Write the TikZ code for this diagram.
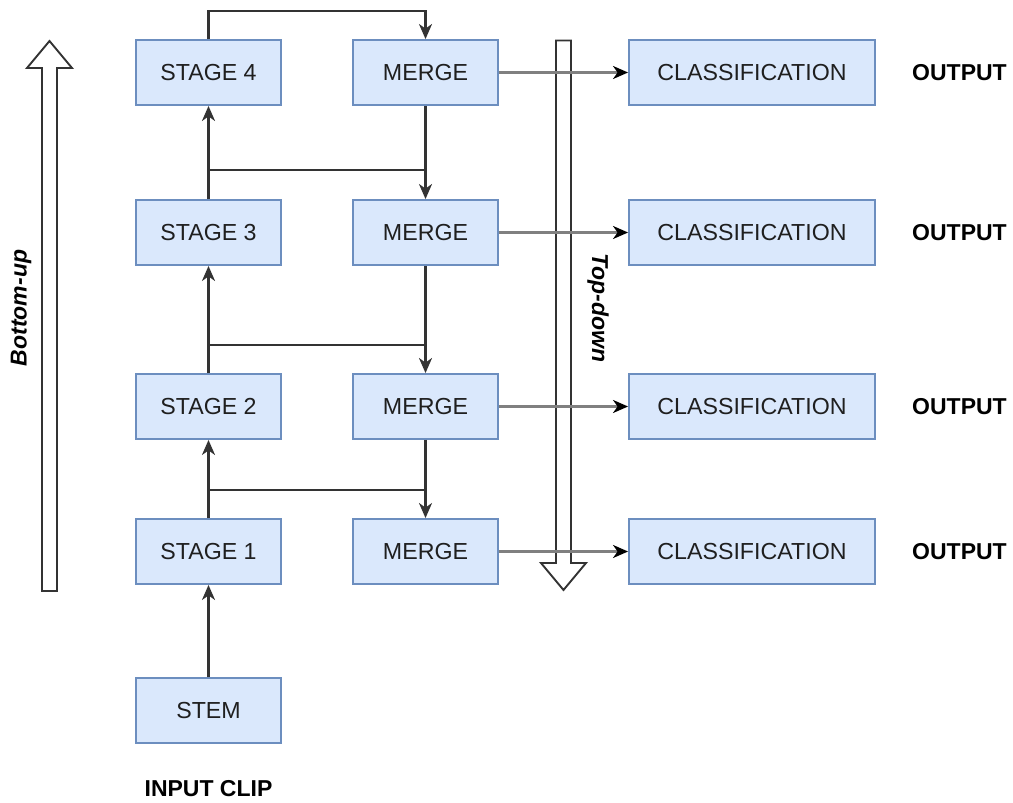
\documentclass[tikz,border=0pt]{standalone}
\usepackage{fontspec}
\setmainfont{Liberation Sans}
\usetikzlibrary{arrows.meta}
\definecolor{boxfill}{HTML}{DAE8FC}
\definecolor{boxline}{HTML}{6C8EBF}
\definecolor{wire}{HTML}{333333}
\definecolor{feed}{HTML}{808080}
\tikzset{
  block/.style={draw=boxline, fill=boxfill, line width=1.9pt, minimum height=65pt,
    inner sep=0pt, font=\fontsize{23.2}{27}\selectfont, text=black!88},
  stagebox/.style={block, minimum width=145pt},
  classbox/.style={block, minimum width=246pt},
  tag/.style={font=\fontsize{23}{27}\selectfont\bfseries, text=black},
  wireline/.style={draw=wire, line width=2.1pt},
  tipshape/.style={-{Stealth[length=15pt,width=13pt,inset=4.5pt]}},
  conn/.style={wireline, tipshape},
  feedconn/.style={draw=feed, line width=2.2pt, arrows={-{Stealth[length=15pt,width=13pt,inset=4.5pt,color=black]}}},
  blockarrow/.style={draw=wire, fill=white, line width=1.9pt, line join=miter},
  sidelabel/.style={font=\fontsize{23}{27}\selectfont\bfseries\itshape, text=black}
}
\begin{document}
\begin{tikzpicture}[x=1pt, y=-1pt]
\useasboundingbox (0,0) rectangle (1013,803);

% wide direction arrows
\draw[blockarrow] (42,591) -- (42,68) -- (27,68) -- (49.5,41) -- (72,68) -- (57,68) -- (57,591) -- cycle;
\draw[blockarrow] (556,40.5) -- (571,40.5) -- (571,563) -- (586,563) -- (563.5,590) -- (541,563) -- (556,563) -- cycle;
\node[sidelabel, rotate=90] (bu) at (21,308) {Bottom-up};
\node[sidelabel, rotate=-90] (td) at (598,308) {Top-down};

% backbone stages
\node[stagebox] (s4) at (208.5,72.5) {STAGE 4};
\node[stagebox] (s3) at (208.5,232.5) {STAGE 3};
\node[stagebox] (s2) at (208.5,406.5) {STAGE 2};
\node[stagebox] (s1) at (208.5,551.5) {STAGE 1};
\node[stagebox] (stem) at (208.5,710.5) {STEM};
\node[tag] (input) at (208.5,789) {INPUT CLIP};

% merge column
\node[stagebox] (m4) at (425.5,72.5) {MERGE};
\node[stagebox] (m3) at (425.5,232.5) {MERGE};
\node[stagebox] (m2) at (425.5,406.5) {MERGE};
\node[stagebox] (m1) at (425.5,551.5) {MERGE};

% heads
\node[classbox] (c4) at (752,72.5) {CLASSIFICATION};
\node[classbox] (c3) at (752,232.5) {CLASSIFICATION};
\node[classbox] (c2) at (752,406.5) {CLASSIFICATION};
\node[classbox] (c1) at (752,551.5) {CLASSIFICATION};
\node[tag] (o4) at (959.5,72.5) {OUTPUT};
\node[tag] (o3) at (959.5,232.5) {OUTPUT};
\node[tag] (o2) at (959.5,406.5) {OUTPUT};
\node[tag] (o1) at (959.5,551.5) {OUTPUT};

% bottom-up path
\draw[conn] (stem.north) -- (s1.south);
\draw[conn] (s1.north) -- (s2.south);
\draw[conn] (s2.north) -- (s3.south);
\draw[conn] (s3.north) -- (s4.south);
\draw[conn] (s4.north) -- (s4.north |- 0,11) -| (m4.north);

% lateral connections
\coordinate (j3) at (s3.north |- 0,170);
\coordinate (j2) at (s2.north |- 0,345);
\coordinate (j1) at (s1.north |- 0,490);
\draw[wireline] (j3) -- (m4.south |- j3);
\draw[wireline] (j2) -- (m3.south |- j2);
\draw[wireline] (j1) -- (m2.south |- j1);

% top-down path
\draw[conn] (m4.south) -- (m3.north);
\draw[conn] (m3.south) -- (m2.north);
\draw[conn] (m2.south) -- (m1.north);

% merged features to heads
\draw[feedconn] (m4.east) -- (c4.west);
\draw[feedconn] (m3.east) -- (c3.west);
\draw[feedconn] (m2.east) -- (c2.west);
\draw[feedconn] (m1.east) -- (c1.west);
\end{tikzpicture}
\end{document}
